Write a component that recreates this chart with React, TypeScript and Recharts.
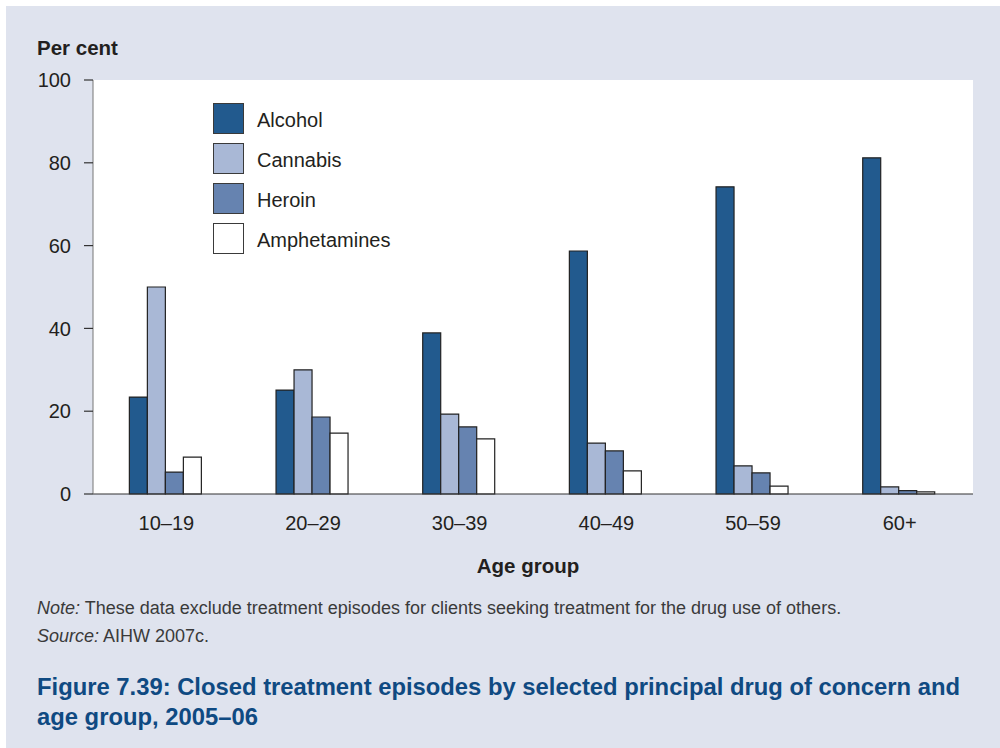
import React from "react"
import { Bar, BarChart, CartesianGrid, XAxis, YAxis } from "recharts"

const ageGroups = ["10–19", "20–29", "30–39", "40–49", "50–59", "60+"]
const alcohol = [23.4, 25.1, 38.9, 58.7, 74.2, 81.2]
const cannabis = [50.0, 30.0, 19.3, 12.3, 6.8, 1.7]
const heroin = [5.3, 18.6, 16.2, 10.4, 5.1, 0.8]
const amphetamines = [8.9, 14.7, 13.3, 5.6, 1.9, 0.5]
const yTicks = [0, 20, 40, 60, 80, 100]

const series = [
  { key: "alcohol", name: "Alcohol", fill: "#225a8e" },
  { key: "cannabis", name: "Cannabis", fill: "#a9b8d6" },
  { key: "heroin", name: "Heroin", fill: "#6683b0" },
  { key: "amphetamines", name: "Amphetamines", fill: "#ffffff" },
]

const data = ageGroups.map((name, i) => ({
  name,
  alcohol: alcohol[i],
  cannabis: cannabis[i],
  heroin: heroin[i],
  amphetamines: amphetamines[i],
}))

const font = "'Liberation Sans', Arial, Helvetica, sans-serif"
const textColor = "#231f20"

function LegendBox() {
  return (
    <div style={{ position: "absolute", left: 213, top: 98, fontFamily: font }}>
      {series.map((s) => (
        <div key={s.key} style={{ display: "flex", alignItems: "center", height: 40 }}>
          <div
            style={{
              width: 29,
              height: 29,
              background: s.fill,
              border: "1px solid #3a3a3a",
              boxSizing: "content-box",
            }}
          />
          <span style={{ marginLeft: 13, marginTop: 5, fontSize: 20, color: textColor }}>{s.name}</span>
        </div>
      ))}
    </div>
  )
}

export default function App() {
  return (
    <div style={{ position: "relative", width: 1000, height: 748, background: "#fff", fontFamily: font }}>
      <style>{"body{margin:0}"}</style>
      <div style={{ position: "absolute", left: 6, top: 6, width: 994, height: 742, background: "#dfe3ee" }} />

      <div style={{ position: "absolute", left: 37, top: 36, fontSize: 20.5, fontWeight: "bold", color: textColor }}>
        Per cent
      </div>

      <div style={{ position: "absolute", left: 0, top: 0 }}>
        <BarChart
          width={1000}
          height={600}
          data={data}
          margin={{ top: 80, right: 27, left: 0, bottom: 66 }}
          barCategoryGap="24.8%"
          barGap={0}
        >
          <CartesianGrid horizontal={false} vertical={false} fill="#ffffff" />
          <XAxis
            dataKey="name"
            height={40}
            tickLine={false}
            tickSize={0}
            tickMargin={22}
            axisLine={{ stroke: "#333", strokeWidth: 1.2 }}
            tick={{ fill: textColor, fontSize: 20, fontFamily: font }}
          />
          <YAxis
            width={93}
            domain={[0, 100]}
            ticks={yTicks}
            tickSize={9}
            tickMargin={13}
            axisLine={{ stroke: "#777", strokeWidth: 1 }}
            tickLine={{ stroke: "#333", strokeWidth: 1.2 }}
            tick={{ fill: textColor, fontSize: 20, fontFamily: font }}
          />
          {series.map((s) => (
            <Bar
              key={s.key}
              dataKey={s.key}
              name={s.name}
              fill={s.fill}
              stroke="#222"
              strokeWidth={1.2}
              isAnimationActive={false}
            />
          ))}
        </BarChart>
      </div>

      <LegendBox />

      <div
        style={{
          position: "absolute",
          left: 378,
          width: 300,
          top: 554,
          textAlign: "center",
          fontSize: 20.5,
          fontWeight: "bold",
          color: textColor,
        }}
      >
        Age group
      </div>

      <div style={{ position: "absolute", left: 37, top: 594, fontSize: 18, color: "#3a3a3a", lineHeight: "28px" }}>
        <div>
          <i>Note:</i> These data exclude treatment episodes for clients seeking treatment for the drug use of others.
        </div>
        <div>
          <i>Source:</i> AIHW 2007c.
        </div>
      </div>

      <div
        style={{
          position: "absolute",
          left: 37,
          top: 672,
          width: 960,
          fontSize: 23.8,
          fontWeight: "bold",
          color: "#0f4a82",
          lineHeight: "30px",
        }}
      >
        Figure 7.39: Closed treatment episodes by selected principal drug of concern and
        <br />
        age group, 2005–06
      </div>
    </div>
  )
}
